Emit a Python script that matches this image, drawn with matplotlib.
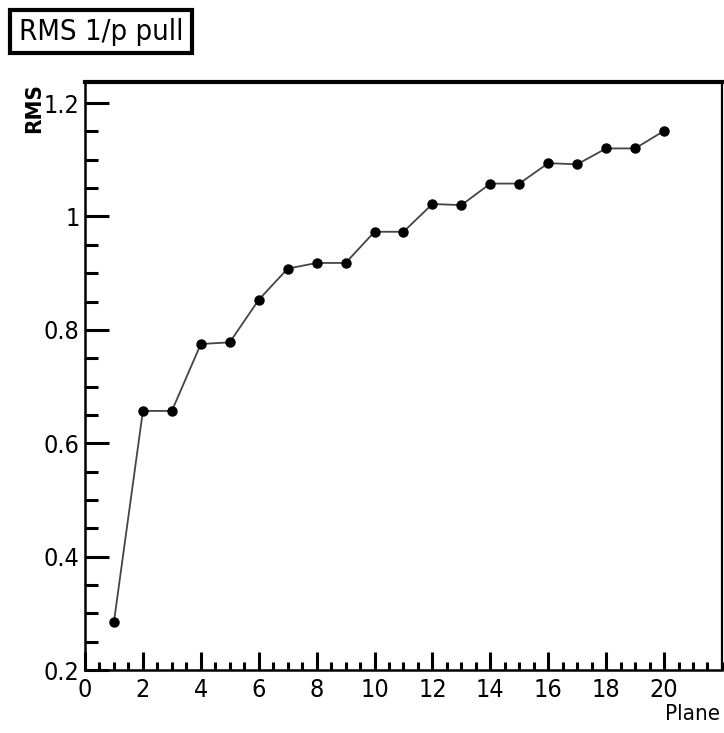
import matplotlib
matplotlib.use("Agg")
import matplotlib.pyplot as plt
from matplotlib.patches import Rectangle
from matplotlib.ticker import MultipleLocator, FixedLocator

plt.rcParams['font.family'] = ['DejaVu Sans']
plt.rcParams['font.stretch'] = 'condensed'

# RMS of 1/p pull per plane
planes = [1, 2, 3, 4, 5, 6, 7, 8, 9, 10, 11, 12, 13, 14, 15, 16, 17, 18, 19, 20]
rms = [0.285, 0.657, 0.657, 0.775, 0.778, 0.853, 0.908, 0.918, 0.918, 0.973,
       0.973, 1.022, 1.020, 1.058, 1.058, 1.094, 1.092, 1.120, 1.120, 1.151]
xticks = [0, 2, 4, 6, 8, 10, 12, 14, 16, 18, 20]

fig = plt.figure(figsize=(7.24, 7.33), dpi=100)
ax = fig.add_axes([0.1174, 0.0859, 0.8798, 0.8021])

ax.plot(planes, rms, color='#444444', lw=1.3, marker='o', ms=6.5,
        mfc='black', mec='black')

ax.set_xlim(0, 22)
ax.set_ylim(0.2, 1.237)

ax.xaxis.set_major_locator(FixedLocator(xticks))
ax.xaxis.set_minor_locator(MultipleLocator(0.5))
ax.yaxis.set_major_locator(MultipleLocator(0.2))
ax.yaxis.set_minor_locator(MultipleLocator(0.05))
ax.xaxis.set_major_formatter(plt.FuncFormatter(lambda v, p: '%g' % v))
ax.yaxis.set_major_formatter(plt.FuncFormatter(lambda v, p: '%g' % round(v, 2)))

ax.tick_params(which='both', direction='in', top=False, right=False,
               width=2.2, color='black')
ax.tick_params(which='major', axis='x', length=13, labelsize=18, pad=6)
ax.tick_params(which='minor', axis='x', length=6)
ax.tick_params(which='major', axis='y', length=17, labelsize=18, pad=4)
ax.tick_params(which='minor', axis='y', length=9)

ax.spines['top'].set_linewidth(3.0)
ax.spines['right'].set_linewidth(1.6)
ax.spines['left'].set_linewidth(1.8)
ax.spines['bottom'].set_linewidth(1.8)

fig.text(0.9945, 0.012, 'Plane', ha='right', va='bottom', fontsize=16)
fig.text(0.047, 0.887, 'RMS', rotation=90, ha='center', va='top',
         fontsize=16, fontweight='bold')

# title box
fig.add_artist(Rectangle((0.0138, 0.9277), 0.2514, 0.0587,
                         transform=fig.transFigure, fill=False,
                         lw=3, edgecolor='black'))
fig.text(0.1395, 0.957, 'RMS 1/p pull', ha='center', va='center', fontsize=21)

fig.savefig('out.png', dpi=100)
